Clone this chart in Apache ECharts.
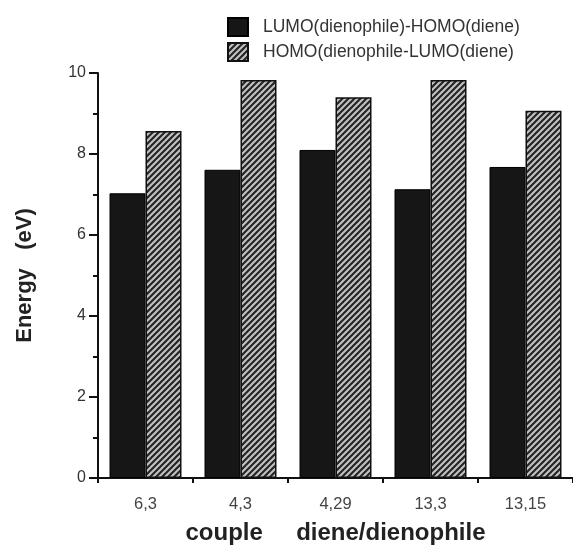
<!DOCTYPE html>
<html><head><meta charset="utf-8">
<script src="https://cdn.jsdelivr.net/npm/echarts@6/dist/echarts.min.js"></script>
<style>html,body{margin:0;padding:0;background:#fff}#c{width:573px;height:545px}</style>
</head><body><div id="c"></div>
<script>
const categories = ['6,3', '4,3', '4,29', '13,3', '13,15'];
const lumoHomo = [7.03, 7.61, 8.10, 7.13, 7.68];
const homoLumo = [8.57, 9.83, 9.40, 9.83, 9.07];
const seriesNames = ['LUMO(dienophile)-HOMO(diene)', 'HOMO(dienophile-LUMO(diene)'];

function hatch() {
  const s = 6;
  const c = document.createElement('canvas');
  c.width = s; c.height = s;
  const g = c.getContext('2d');
  g.fillStyle = '#262626'; g.fillRect(0, 0, s, s);
  g.strokeStyle = '#c4c4c4'; g.lineWidth = 2;
  g.beginPath();
  g.moveTo(-1, s + 1); g.lineTo(s + 1, -1);
  g.moveTo(-2, 2); g.lineTo(2, -2);
  g.moveTo(s - 2, s + 2); g.lineTo(s + 2, s - 2);
  g.stroke();
  return c;
}

const chart = echarts.init(document.getElementById('c'));
chart.setOption({
  animation: false,
  legend: {
    orient: 'vertical', left: 222, top: 12, itemWidth: 20, itemHeight: 18, itemGap: 5,
    icon: 'rect',
    textStyle: { fontFamily: 'Liberation Sans', fontSize: 17.5, color: '#333', padding: [0, 0, 0, 10] },
    data: seriesNames
  },
  grid: { left: 98, right: 0, top: 73, bottom: 67, containLabel: false, outerBoundsMode: 'none' },
  xAxis: {
    type: 'category', data: categories,
    axisLine: { lineStyle: { color: '#111', width: 2 } },
    axisTick: { show: true, length: 5, lineStyle: { color: '#111', width: 2 } },
    axisLabel: { margin: 18, fontFamily: 'Liberation Sans', fontSize: 16.5, color: '#444' },
    name: 'couple     diene/dienophile', nameLocation: 'middle', nameGap: 43,
    nameTextStyle: { fontFamily: 'Liberation Sans', fontWeight: 'bold', fontSize: 24, color: '#222' }
  },
  yAxis: {
    type: 'value', min: 0, max: 10, interval: 2,
    axisLine: { show: true, lineStyle: { color: '#111', width: 2 } },
    axisTick: { show: true, length: 9, lineStyle: { color: '#111', width: 2 } },
    minorTick: { show: true, splitNumber: 2, length: 5, lineStyle: { color: '#111', width: 2 } },
    splitLine: { show: false },
    axisLabel: { margin: 12, fontFamily: 'Liberation Sans', fontSize: 16, color: '#333' },
    name: 'Energy   (eV)', nameLocation: 'middle', nameGap: 62,
    nameTextStyle: { fontFamily: 'Liberation Sans', fontWeight: 'bold', fontSize: 22, color: '#222' }
  },
  series: [
    { name: seriesNames[0], type: 'bar', data: lumoHomo, barWidth: 36, barGap: '0%',
      itemStyle: { color: '#161616', borderColor: '#000', borderWidth: 1 } },
    { name: seriesNames[1], type: 'bar', data: homoLumo, barWidth: 36, barGap: '0%',
      itemStyle: { color: { image: hatch(), repeat: 'repeat' }, borderColor: '#111', borderWidth: 1.5 } }
  ]
});
</script></body></html>
